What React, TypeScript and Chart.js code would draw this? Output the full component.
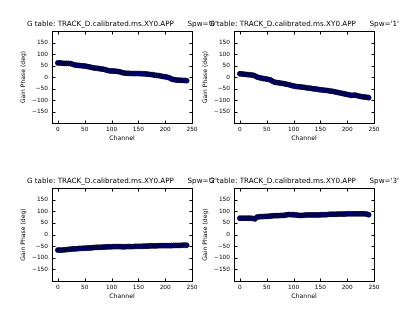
import React, { useEffect, useRef } from "react";
import { Chart, registerables } from "chart.js";

Chart.register(...registerables);

const CHANNELS = [
  0, 4, 8, 12, 16, 20, 24, 28, 32, 36, 40, 44, 48, 52, 56, 60, 64, 68, 72, 76,
  80, 84, 88, 92, 96, 100, 104, 108, 112, 116, 120, 124, 128, 132, 136, 140,
  144, 148, 152, 156, 160, 164, 168, 172, 176, 180, 184, 188, 192, 196, 200,
  204, 208, 212, 216, 220, 224, 228, 232, 236, 240,
];

const PHASE_SPW0 = [
  61, 61, 60, 59, 59, 59, 58, 55, 52, 51, 50, 49, 48, 47, 45, 43, 41, 39, 38, 37,
  35, 34, 32, 29, 27, 26, 26, 25, 24, 22, 19, 17, 16, 16, 15, 15, 15, 15, 15, 14,
  14, 13, 12, 11, 10, 8, 7, 6, 4, 2, 1, -1, -4, -9, -11, -13, -14, -14, -15, -15,
  -16,
];

const PHASE_SPW1 = [
  14, 13, 12, 11, 10, 9, 8, 5, 0, -3, -5, -7, -8, -10, -12, -17, -22, -24, -25,
  -27, -28, -30, -32, -34, -37, -39, -41, -42, -43, -44, -45, -47, -48, -49, -51,
  -52, -53, -55, -56, -57, -58, -59, -61, -62, -64, -66, -68, -70, -72, -74, -76,
  -78, -80, -79, -79, -82, -84, -86, -87, -88, -90,
];

const PHASE_SPW2 = [
  -67, -67, -67, -66, -65, -64, -63, -62, -62, -61, -60, -60, -59, -59, -58, -58,
  -57, -56, -55, -55, -55, -54, -54, -53, -53, -53, -52, -52, -52, -52, -53, -53,
  -52, -52, -52, -52, -51, -51, -51, -51, -50, -50, -50, -49, -49, -49, -49, -48,
  -48, -48, -48, -48, -48, -48, -47, -47, -47, -47, -46, -46, -46,
];

const PHASE_SPW3 = [
  70, 70, 70, 70, 70, 70, 69, 67, 75, 76, 77, 77, 78, 78, 79, 80, 81, 81, 81, 82,
  82, 83, 85, 86, 85, 85, 84, 83, 82, 82, 83, 84, 84, 84, 84, 84, 84, 84, 85, 85,
  85, 86, 87, 87, 87, 87, 88, 88, 88, 88, 89, 89, 89, 89, 89, 89, 89, 89, 89, 88,
  85,
];

const X_TICKS = [0, 50, 100, 150, 200, 250];
const Y_TICKS = [-150, -100, -50, 0, 50, 100, 150];
const TITLE_PREFIX = "G table: TRACK_D.calibrated.ms.XY0.APP";
const SPW_NAMES = ["0", "1", "2", "3"];
const X_LABEL = "Channel";
const Y_LABEL = "Gain Phase (deg)";

const W = 415;
const H = 312;
const Y_AXIS_W = 32.6;
const X_AXIS_H = 19;
const FONT = '"DejaVu Sans", sans-serif';

type Area = { left: number; top: number; right: number; bottom: number };

const PANELS: { spw: string; values: number[]; area: Area }[] = [
  { spw: SPW_NAMES[0], values: PHASE_SPW0, area: { left: 52, top: 31, right: 192, bottom: 123 } },
  { spw: SPW_NAMES[1], values: PHASE_SPW1, area: { left: 234, top: 31, right: 374, bottom: 123 } },
  { spw: SPW_NAMES[2], values: PHASE_SPW2, area: { left: 52, top: 188, right: 192, bottom: 281 } },
  { spw: SPW_NAMES[3], values: PHASE_SPW3, area: { left: 234, top: 188, right: 374, bottom: 281 } },
];

const fmt = (v: number) => (v < 0 ? "\u2212" + Math.abs(v) : String(v));

function makeFramePlugin(title: string) {
  return {
    id: "frameAndTitle",
    afterDraw(chart: any) {
      const { ctx, chartArea } = chart;
      const xs = chart.scales.x;
      const ys = chart.scales.y;
      const l = Math.round(chartArea.left) + 0.5;
      const r = Math.round(chartArea.right) + 0.5;
      const t = Math.round(chartArea.top) + 0.5;
      const b = Math.round(chartArea.bottom) + 0.5;
      ctx.save();
      ctx.strokeStyle = "#000";
      ctx.lineWidth = 1;
      ctx.beginPath();
      const tl = 3;
      X_TICKS.forEach((v) => {
        const px = Math.round(xs.getPixelForValue(v)) + 0.5;
        ctx.moveTo(px, b);
        ctx.lineTo(px, b - tl);
        ctx.moveTo(px, t);
        ctx.lineTo(px, t + tl);
      });
      Y_TICKS.forEach((v) => {
        const py = Math.round(ys.getPixelForValue(v)) + 0.5;
        ctx.moveTo(l, py);
        ctx.lineTo(l + tl, py);
        ctx.moveTo(r, py);
        ctx.lineTo(r - tl, py);
      });
      ctx.stroke();
      ctx.strokeRect(l, t, r - l, b - t);
      ctx.fillStyle = "#000";
      ctx.font = "7.2px " + FONT;
      ctx.textAlign = "center";
      ctx.textBaseline = "middle";
      ctx.fillText(title, (chartArea.left + chartArea.right) / 2, chartArea.top - 6.7);
      ctx.restore();
    },
  };
}

function Panel({ spw, values, area }: { spw: string; values: number[]; area: Area }) {
  const ref = useRef<HTMLCanvasElement>(null);
  useEffect(() => {
    const title = TITLE_PREFIX + "      Spw='" + spw + "'";
    const chart = new Chart(ref.current as HTMLCanvasElement, {
      type: "scatter",
      data: {
        datasets: [
          {
            data: CHANNELS.map((c, i) => ({ x: c, y: values[i] })),
            pointRadius: 2.4,
            pointBackgroundColor: "#000080",
            pointBorderColor: "#000030",
            pointBorderWidth: 1,
            showLine: false,
          },
        ],
      },
      options: {
        responsive: false,
        animation: false,
        devicePixelRatio: 1,
        layout: {
          padding: {
            left: area.left - Y_AXIS_W,
            top: area.top,
            right: W - area.right,
            bottom: H - area.bottom - X_AXIS_H,
          },
        },
        plugins: {
          legend: { display: false },
          tooltip: { enabled: false },
          title: { display: false },
        },
        scales: {
          x: {
            type: "linear",
            min: -11,
            max: 250,
            grid: { display: false, drawTicks: false, tickLength: 0 },
            border: { display: false },
            afterBuildTicks: (s: any) => {
              s.ticks = X_TICKS.map((v) => ({ value: v }));
            },
            afterFit: (s: any) => {
              s.height = X_AXIS_H;
            },
            ticks: {
              font: { size: 5.8, family: FONT },
              color: "#000",
              padding: 3,
              maxRotation: 0,
              autoSkip: false,
              callback: (v: any) => fmt(Number(v)),
            },
            title: {
              display: true,
              text: X_LABEL,
              font: { size: 6.2, family: FONT },
              color: "#000",
              padding: 0,
            },
          },
          y: {
            type: "linear",
            min: -200,
            max: 200,
            grid: { display: false, drawTicks: false, tickLength: 0 },
            border: { display: false },
            afterBuildTicks: (s: any) => {
              s.ticks = Y_TICKS.map((v) => ({ value: v }));
            },
            afterFit: (s: any) => {
              s.width = Y_AXIS_W;
            },
            ticks: {
              font: { size: 5.8, family: FONT },
              color: "#000",
              padding: 4,
              autoSkip: false,
              callback: (v: any) => fmt(Number(v)),
            },
            title: {
              display: true,
              text: Y_LABEL,
              font: { size: 6.1, family: FONT },
              color: "#000",
              padding: 0,
            },
          },
        },
      },
      plugins: [makeFramePlugin(title)],
    } as any);
    return () => chart.destroy();
  }, [spw, values, area]);
  return (
    <canvas
      ref={ref}
      width={W}
      height={H}
      style={{ position: "absolute", left: 0, top: 0, width: W, height: H }}
    />
  );
}

export default function App() {
  return (
    <div
      style={{
        position: "absolute",
        left: 0,
        top: 0,
        width: W,
        height: H,
        background: "#fff",
        overflow: "hidden",
      }}
    >
      {PANELS.map((p) => (
        <Panel key={p.spw} spw={p.spw} values={p.values} area={p.area} />
      ))}
    </div>
  );
}
